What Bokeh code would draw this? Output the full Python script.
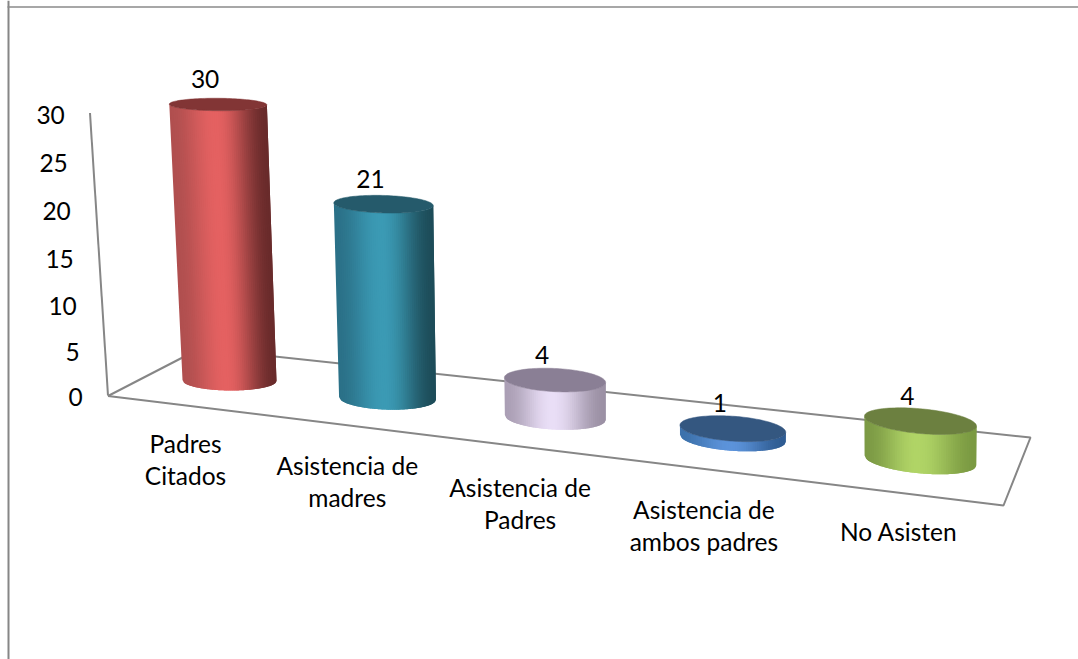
import numpy as np
from bokeh.plotting import figure
from bokeh.core.properties import value
from bokeh.embed import file_html
from bokeh.resources import INLINE

categories = ["Padres\nCitados", "Asistencia de\nmadres", "Asistencia de\nPadres",
              "Asistencia de\nambos padres", "No Asisten"]
values = [30, 21, 4, 1, 4]
tick_values = [0, 5, 10, 15, 20, 25, 30]

edge_left = ["#b04f4f", "#2b7188", "#ab9fb5", "#3d72ac", "#7c9a45"]
peak = ["#e46161", "#3b9ab4", "#e9def6", "#5c93da", "#b0d466"]
edge_right = ["#692b2b", "#1d4c59", "#9b90a4", "#2f5c92", "#7b9a42"]
lid = ["#823535", "#255a6b", "#8a7f95", "#345780", "#6c8040"]

GREY = "#868686"
FONT = value("Lato")
FS = value("24.5px")

OX, OY, W, H = 0, 0, 1078, 659
Y0, UNIT = 396.0, 9.4
TEXT_UP = 1.2


def vy(py):
    return (Y0 - np.asarray(py, dtype=float)) / UNIT


p = figure(width=W, height=H, x_range=(OX, OX + W), y_range=(float(vy(OY + H)), float(vy(OY))),
           output_backend="svg", toolbar_location=None, min_border=0,
           outline_line_color=None, margin=(0, 0, 0, 0))
p.axis.visible = False
p.grid.visible = False
p.background_fill_color = "white"

# page border
p.line([8, 8], [float(vy(OY + H)), float(vy(OY))], line_color=GREY, line_width=2)
p.line([7, OX + W], [float(vy(6.5))] * 2, line_color="#8a8a8a", line_width=1.4)

# walls and floor
p.line([89.5, 107.5], vy([112.5, 395]), line_color=GREY, line_width=2)
p.multi_line([[107.5, 199.5], [199.5, 1030, 1003, 107.5]],
             [list(vy([395.5, 348])), list(vy([348, 437, 505, 395.5]))],
             line_color=GREY, line_width=2)


def hex_rgb(h):
    return np.array([int(h[k:k + 2], 16) for k in (1, 3, 5)], dtype=float)


def shade(i, u):
    if u < 0.47:
        c = np.sin(u / 0.47 * np.pi / 2) ** 2
        a, b = hex_rgb(edge_left[i]), hex_rgb(peak[i])
    else:
        c = np.cos((u - 0.47) / 0.53 * np.pi / 2) ** 2
        a, b = hex_rgb(edge_right[i]), hex_rgb(peak[i])
    rgb = a + (b - a) * c
    return "#%02x%02x%02x" % tuple(int(round(x)) for x in rgb)


half_widths = lambda i: 47 + 1.2 * i + 0.25 * i * i
half_depth = lambda i: 10.5 + 1.0 * i - 0.1 * i * i if i else 10.0
tilt = lambda i: 0.008 + 0.02 * i
lean = lambda i: -0.38 + 0.22 * i - 0.03 * i * i
N = 48
side_xs, side_ys, side_col, lid_xs, lid_ys, lid_col = [], [], [], [], [], []
lab_x, lab_y, lab_t = [], [], []

for i, v in enumerate(values):
    bx = 229 + 153.2 * i + 4.8 * i * i + 0.02 * i ** 3
    by = 380 + 17 * i + 0.75 * i * i
    k = 9.2 + 0.04 * i * i
    tx = bx + lean(i) * v
    ty = by - k * v
    a_b, a_t = half_widths(i), half_widths(i) + 0.06 * v
    b_b, b_t = half_depth(i), max(half_depth(i) - 0.125 * v, 4)
    s = tilt(i)

    def rim(cx, cy, a, b, q):
        return cx + a * q, cy + b * np.sqrt(max(1 - q * q, 0)) + s * a * q

    for j in range(N):
        # every strip runs one step too far, the next one paints over it: no seams
        qs = np.linspace(-1 + 2 * j / N, min(-1 + 2 * (j + 2) / N, 1), 4)
        bot = [rim(bx, by, a_b, b_b, q) for q in qs]
        top = [rim(tx, ty, a_t, b_t, q) for q in qs[::-1]]
        pts = bot + top
        side_xs.append([pt[0] for pt in pts])
        side_ys.append(list(vy([pt[1] for pt in pts])))
        side_col.append(shade(i, (j + 0.5) / N))
    th = np.linspace(0, 2 * np.pi, 120)
    lid_xs.append(list(tx + a_t * np.cos(th)))
    lid_ys.append(list(vy(ty + b_t * np.sin(th) + s * a_t * np.cos(th))))
    lid_col.append(lid[i])
    lab_x.append(float(tx - 13))
    lab_y.append(float(vy(ty - 24 - TEXT_UP)))
    lab_t.append(str(v))

p.patches(side_xs, side_ys, fill_color=side_col, line_color=None)
p.patches(lid_xs, lid_ys, fill_color=lid_col, line_color=lid_col, line_width=0.5)

p.text(lab_x, lab_y, text=lab_t, text_font=FONT, text_font_size=FS, text_color="black",
       text_align="center", text_baseline="middle")

# value ticks follow the slanted wall, spaced wider towards the top by the perspective
p.text([82.3 - 0.6 * t for t in tick_values],
       [float(vy(396.7 - 9.04 * t - 0.01244 * t * t)) for t in tick_values],
       text=[str(t) for t in tick_values], text_font=FONT, text_font_size=FS, text_color="black",
       text_align="right", text_baseline="middle")

# category labels
cx, cy, ct = [], [], []
for i, c in enumerate(categories):
    for n, line in enumerate(c.split("\n")):
        cx.append(185 + 156.3 * i + 5.5 * i * i)
        cy.append(float(vy(444 + 22 * i + 32 * n - TEXT_UP)))
        ct.append(line)
p.text(cx, cy, text=ct, text_font=FONT, text_font_size=FS, text_color="black",
       text_align="center", text_baseline="middle")

open("out.html", "w").write(file_html(p, INLINE))
